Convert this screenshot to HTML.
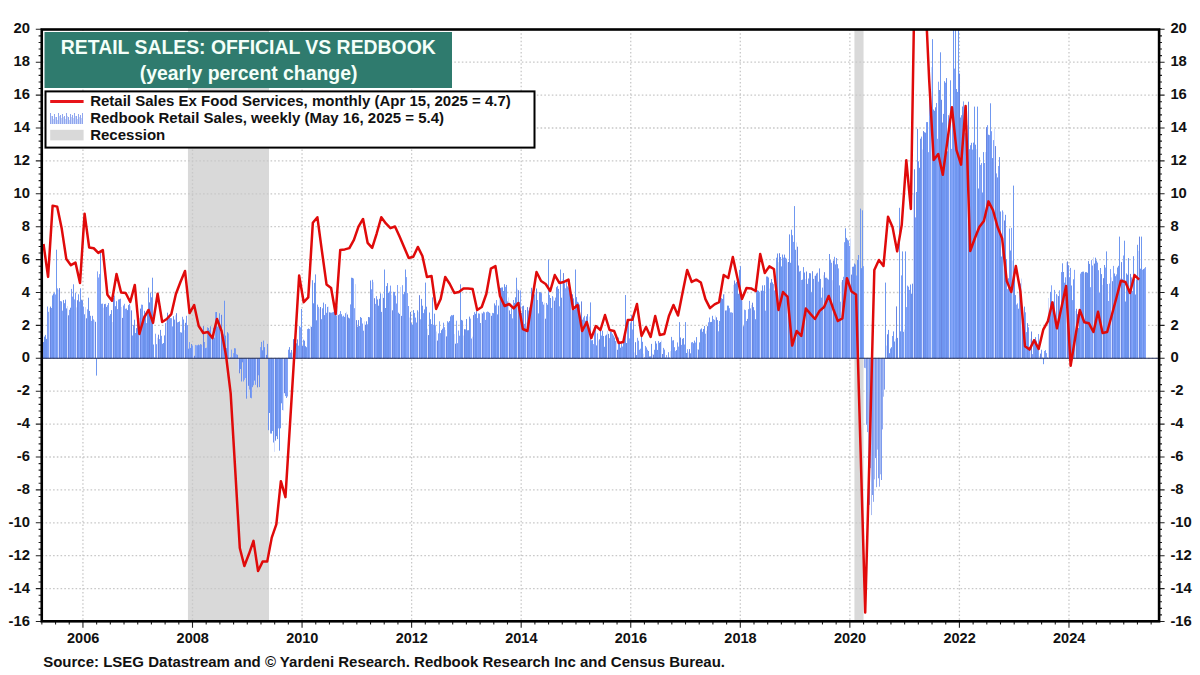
<!DOCTYPE html>
<html><head><meta charset="utf-8"><style>
html,body{margin:0;padding:0;background:#fff;}
body{width:1200px;height:675px;overflow:hidden;position:relative;}
svg{position:absolute;left:0;top:0;}
text{font-family:"Liberation Sans",sans-serif;font-weight:bold;}
</style></head><body>
<svg width="1200" height="675" viewBox="0 0 1200 675">
<defs><clipPath id="pc"><rect x="41.75" y="29.5" width="1117.35" height="591.80"/></clipPath></defs>
<rect x="0" y="0" width="1200" height="675" fill="#fff"/>
<rect x="187.94" y="29.5" width="81.07" height="591.8" fill="#d9d9d9"/>
<rect x="854.42" y="29.5" width="9.13" height="591.8" fill="#d9d9d9"/>
<path d="M41.8 588.60H1159.1M41.8 555.70H1159.1M41.8 522.80H1159.1M41.8 489.90H1159.1M41.8 457.00H1159.1M41.8 424.10H1159.1M41.8 391.20H1159.1M41.8 358.30H1159.1M41.8 325.40H1159.1M41.8 292.50H1159.1M41.8 259.60H1159.1M41.8 226.70H1159.1M41.8 193.80H1159.1M41.8 160.90H1159.1M41.8 128.00H1159.1M41.8 95.10H1159.1M41.8 62.20H1159.1M82.94 29.5V621.3M192.50 29.5V621.3M302.06 29.5V621.3M411.62 29.5V621.3M521.18 29.5V621.3M630.74 29.5V621.3M740.30 29.5V621.3M849.86 29.5V621.3M959.42 29.5V621.3M1068.98 29.5V621.3" stroke="#c8c8c8" stroke-width="1.3" stroke-dasharray="1.6 2.15" fill="none"/>
<path d="M42.5 342.6V358.3M44.5 336.6V358.3M45.5 334.9V358.3M46.5 338.9V358.3M52.5 295.4V358.3M61.5 301.4V358.3M64.5 303.2V358.3M65.5 299.6V358.3M78.5 294.3V358.3M80.5 288.3V358.3M84.5 314.3V358.3M88.5 297.7V358.3M92.5 315.8V358.3M110.5 314.1V358.3M111.5 310.1V358.3M116.5 301.2V358.3M133.5 325.2V358.3M137.5 319.7V358.3M145.5 313.2V358.3M153.5 344.5V358.3M162.5 343.8V358.3M163.5 343.0V358.3M179.5 321.4V358.3M183.5 319.5V358.3M190.5 347.9V358.3M197.5 345.3V358.3M200.5 344.1V358.3M205.5 348.1V358.3M210.5 326.3V358.3M214.5 337.7V358.3M232.5 357.5V358.3M234.5 348.2V358.3M240.5 358.3V369.0M252.5 358.3V387.2M261.5 341.9V358.3M263.5 340.6V358.3M268.5 358.3V430.2M269.5 358.3V413.0M273.5 358.3V442.5M277.5 358.3V439.1M281.5 358.3V403.3M289.5 347.1V358.3M306.5 347.2V358.3M308.5 328.5V358.3M312.5 280.2V358.3M316.5 320.3V358.3M321.5 319.2V358.3M323.5 302.6V358.3M327.5 306.9V358.3M334.5 309.7V358.3M335.5 308.0V358.3M341.5 314.2V358.3M344.5 316.9V358.3M357.5 326.6V358.3M360.5 317.0V358.3M381.5 311.9V358.3M386.5 286.1V358.3M387.5 283.1V358.3M398.5 312.7V358.3M411.5 323.1V358.3M412.5 324.6V358.3M417.5 310.3V358.3M422.5 305.7V358.3M424.5 309.4V358.3M429.5 312.5V358.3M442.5 328.7V358.3M448.5 322.4V358.3M449.5 321.0V358.3M450.5 316.4V358.3M452.5 315.4V358.3M462.5 320.5V358.3M465.5 329.4V358.3M467.5 330.3V358.3M480.5 323.0V358.3M489.5 312.8V358.3M493.5 313.2V358.3M503.5 291.0V358.3M506.5 284.9V358.3M534.5 294.4V358.3M538.5 313.4V358.3M539.5 292.1V358.3M540.5 292.1V358.3M547.5 304.7V358.3M558.5 288.9V358.3M569.5 279.8V358.3M574.5 310.0V358.3M576.5 297.1V358.3M578.5 302.6V358.3M582.5 319.6V358.3M585.5 320.7V358.3M586.5 316.4V358.3M591.5 340.3V358.3M592.5 340.1V358.3M602.5 330.7V358.3M604.5 346.8V358.3M610.5 331.4V358.3M614.5 337.5V358.3M623.5 336.6V358.3M624.5 337.6V358.3M641.5 332.7V358.3M642.5 341.8V358.3M648.5 351.0V358.3M656.5 343.5V358.3M657.5 349.9V358.3M673.5 340.2V358.3M682.5 338.8V358.3M693.5 343.2V358.3M694.5 340.6V358.3M696.5 337.1V358.3M699.5 342.4V358.3M700.5 329.4V358.3M701.5 328.4V358.3M704.5 326.0V358.3M712.5 315.8V358.3M717.5 320.1V358.3M719.5 320.9V358.3M720.5 297.7V358.3M721.5 298.1V358.3M723.5 294.3V358.3M727.5 305.6V358.3M728.5 305.7V358.3M735.5 283.5V358.3M755.5 319.2V358.3M757.5 290.3V358.3M768.5 277.5V358.3M780.5 257.0V358.3M781.5 266.4V358.3M782.5 254.5V358.3M790.5 262.8V358.3M791.5 229.7V358.3M795.5 249.8V358.3M799.5 271.5V358.3M802.5 279.6V358.3M803.5 267.1V358.3M813.5 278.9V358.3M816.5 273.6V358.3M820.5 278.9V358.3M835.5 264.4V358.3M837.5 264.2V358.3M839.5 285.4V358.3M855.5 264.5V358.3M857.5 259.9V358.3M858.5 255.0V358.3M888.5 329.9V358.3M889.5 353.2V358.3M891.5 347.2V358.3M893.5 331.4V358.3M900.5 331.3V358.3M910.5 284.5V358.3M916.5 192.0V358.3M918.5 161.3V358.3M924.5 132.2V358.3M927.5 122.1V358.3M933.5 109.5V358.3M942.5 122.5V358.3M943.5 113.9V358.3M944.5 81.2V358.3M947.5 151.3V358.3M953.5 29.5V358.3M956.5 89.0V358.3M960.5 117.5V358.3M966.5 107.7V358.3M971.5 142.8V358.3M973.5 142.6V358.3M978.5 188.5V358.3M982.5 192.5V358.3M983.5 152.1V358.3M997.5 177.4V358.3M1001.5 256.5V358.3M1005.5 214.8V358.3M1008.5 278.3V358.3M1010.5 250.5V358.3M1015.5 295.1V358.3M1018.5 308.7V358.3M1023.5 320.3V358.3M1036.5 340.5V358.3M1037.5 347.2V358.3M1047.5 357.5V358.3M1050.5 291.9V358.3M1060.5 309.0V358.3M1062.5 263.3V358.3M1063.5 272.0V358.3M1068.5 265.2V358.3M1071.5 285.5V358.3M1073.5 279.3V358.3M1079.5 309.6V358.3M1082.5 271.7V358.3M1083.5 271.6V358.3M1086.5 272.2V358.3M1096.5 260.5V358.3M1100.5 268.0V358.3M1115.5 276.2V358.3M1117.5 267.5V358.3M1118.5 265.8V358.3M1126.5 273.4V358.3M1133.5 256.2V358.3M1134.5 278.9V358.3M1140.5 268.7V358.3" stroke="#6f96f0" stroke-width="1" fill="none"/>
<path d="M43.5 342.0V358.3M47.5 306.5V358.3M51.5 308.0V358.3M71.5 288.9V358.3M72.5 296.6V358.3M75.5 292.8V358.3M83.5 306.6V358.3M90.5 315.8V358.3M101.5 303.8V358.3M102.5 303.6V358.3M105.5 303.8V358.3M108.5 303.0V358.3M117.5 309.1V358.3M118.5 299.5V358.3M120.5 298.7V358.3M123.5 305.5V358.3M126.5 308.5V358.3M129.5 303.8V358.3M132.5 335.5V358.3M135.5 333.0V358.3M138.5 321.2V358.3M142.5 304.8V358.3M150.5 292.7V358.3M156.5 344.2V358.3M161.5 335.8V358.3M165.5 323.1V358.3M169.5 315.3V358.3M170.5 318.1V358.3M172.5 326.4V358.3M177.5 322.4V358.3M178.5 322.0V358.3M186.5 315.8V358.3M187.5 325.1V358.3M189.5 342.1V358.3M192.5 345.6V358.3M199.5 345.2V358.3M201.5 344.6V358.3M204.5 342.0V358.3M207.5 327.3V358.3M213.5 327.9V358.3M217.5 326.8V358.3M235.5 348.4V358.3M243.5 358.3V381.5M249.5 358.3V389.6M251.5 358.3V398.3M253.5 358.3V385.3M255.5 358.3V384.8M258.5 358.3V375.3M270.5 358.3V433.5M272.5 358.3V431.0M285.5 358.3V396.1M286.5 358.3V398.0M288.5 349.7V358.3M290.5 352.6V358.3M294.5 339.9V358.3M299.5 326.1V358.3M303.5 339.7V358.3M317.5 304.6V358.3M322.5 308.3V358.3M325.5 304.1V358.3M326.5 312.8V358.3M331.5 312.7V358.3M332.5 312.3V358.3M333.5 311.8V358.3M336.5 315.5V358.3M339.5 314.2V358.3M340.5 311.1V358.3M343.5 315.7V358.3M345.5 313.2V358.3M350.5 304.4V358.3M359.5 326.0V358.3M361.5 317.9V358.3M362.5 323.5V358.3M363.5 330.7V358.3M367.5 324.3V358.3M371.5 289.3V358.3M372.5 279.8V358.3M376.5 296.1V358.3M389.5 291.5V358.3M390.5 285.6V358.3M393.5 291.7V358.3M395.5 295.6V358.3M396.5 303.5V358.3M403.5 294.2V358.3M408.5 306.0V358.3M414.5 312.9V358.3M415.5 317.6V358.3M416.5 322.5V358.3M423.5 313.1V358.3M431.5 324.1V358.3M438.5 333.4V358.3M440.5 333.1V358.3M443.5 322.7V358.3M444.5 327.2V358.3M447.5 321.2V358.3M451.5 315.1V358.3M457.5 343.2V358.3M471.5 338.5V358.3M478.5 313.4V358.3M479.5 313.7V358.3M483.5 311.7V358.3M485.5 319.9V358.3M486.5 312.2V358.3M488.5 311.9V358.3M501.5 287.5V358.3M507.5 301.4V358.3M510.5 314.0V358.3M511.5 308.2V358.3M512.5 318.4V358.3M522.5 306.2V358.3M524.5 323.9V358.3M525.5 310.0V358.3M528.5 310.5V358.3M529.5 307.5V358.3M541.5 293.1V358.3M542.5 301.8V358.3M543.5 304.6V358.3M551.5 307.9V358.3M552.5 296.1V358.3M557.5 285.9V358.3M564.5 283.3V358.3M588.5 325.0V358.3M594.5 329.6V358.3M595.5 326.5V358.3M601.5 335.6V358.3M612.5 333.8V358.3M613.5 335.5V358.3M615.5 341.1V358.3M618.5 337.5V358.3M621.5 342.0V358.3M622.5 346.5V358.3M628.5 320.9V358.3M631.5 314.9V358.3M638.5 340.7V358.3M639.5 349.8V358.3M645.5 345.9V358.3M646.5 347.4V358.3M650.5 356.3V358.3M654.5 349.8V358.3M658.5 341.0V358.3M663.5 347.9V358.3M664.5 349.6V358.3M665.5 357.5V358.3M668.5 352.2V358.3M669.5 357.5V358.3M674.5 347.2V358.3M677.5 342.4V358.3M681.5 344.9V358.3M684.5 344.5V358.3M691.5 342.4V358.3M702.5 331.8V358.3M708.5 322.3V358.3M709.5 317.5V358.3M730.5 312.4V358.3M732.5 312.8V358.3M748.5 309.2V358.3M749.5 300.9V358.3M750.5 308.4V358.3M754.5 310.3V358.3M756.5 289.2V358.3M766.5 276.5V358.3M774.5 290.4V358.3M776.5 257.7V358.3M785.5 257.7V358.3M786.5 258.7V358.3M792.5 235.2V358.3M807.5 283.9V358.3M808.5 278.5V358.3M811.5 292.3V358.3M821.5 297.6V358.3M822.5 287.6V358.3M826.5 277.7V358.3M827.5 278.7V358.3M828.5 279.6V358.3M830.5 259.8V358.3M831.5 262.8V358.3M834.5 256.8V358.3M836.5 258.0V358.3M847.5 239.6V358.3M848.5 240.5V358.3M849.5 245.8V358.3M852.5 266.8V358.3M890.5 348.5V358.3M903.5 331.8V358.3M907.5 285.6V358.3M908.5 286.7V358.3M915.5 217.4V358.3M921.5 136.6V358.3M926.5 122.1V358.3M936.5 103.0V358.3M945.5 82.7V358.3M948.5 115.2V358.3M957.5 91.9V358.3M961.5 115.2V358.3M965.5 133.1V358.3M969.5 149.2V358.3M970.5 145.2V358.3M979.5 157.3V358.3M981.5 163.1V358.3M984.5 163.0V358.3M987.5 125.2V358.3M991.5 131.2V358.3M1002.5 210.4V358.3M1006.5 259.2V358.3M1009.5 228.5V358.3M1020.5 283.5V358.3M1028.5 327.3V358.3M1029.5 346.9V358.3M1032.5 354.1V358.3M1033.5 339.3V358.3M1034.5 340.9V358.3M1041.5 349.7V358.3M1042.5 357.5V358.3M1045.5 350.1V358.3M1054.5 289.9V358.3M1055.5 318.8V358.3M1056.5 294.1V358.3M1061.5 272.1V358.3M1064.5 282.7V358.3M1065.5 277.3V358.3M1069.5 277.3V358.3M1070.5 267.9V358.3M1081.5 272.1V358.3M1092.5 265.5V358.3M1097.5 262.6V358.3M1098.5 270.2V358.3M1099.5 292.7V358.3M1107.5 284.0V358.3M1122.5 278.9V358.3M1131.5 277.4V358.3M1144.5 268.3V358.3" stroke="#7a9cf5" stroke-width="1" fill="none"/>
<path d="M48.5 311.8V358.3M54.5 292.4V358.3M55.5 294.5V358.3M57.5 288.4V358.3M60.5 301.0V358.3M62.5 310.7V358.3M69.5 309.8V358.3M74.5 299.4V358.3M79.5 301.6V358.3M87.5 309.3V358.3M91.5 320.8V358.3M93.5 319.4V358.3M97.5 271.4V358.3M98.5 277.5V358.3M99.5 274.1V358.3M107.5 305.2V358.3M109.5 315.7V358.3M114.5 295.6V358.3M124.5 303.8V358.3M125.5 308.8V358.3M141.5 304.6V358.3M146.5 323.1V358.3M155.5 333.7V358.3M159.5 339.1V358.3M168.5 318.3V358.3M171.5 318.2V358.3M180.5 332.2V358.3M182.5 316.8V358.3M195.5 344.9V358.3M196.5 345.3V358.3M206.5 347.7V358.3M215.5 312.1V358.3M218.5 321.5V358.3M222.5 333.5V358.3M223.5 334.3V358.3M228.5 333.4V358.3M231.5 349.6V358.3M233.5 353.1V358.3M236.5 354.2V358.3M244.5 358.3V379.8M245.5 358.3V378.0M260.5 347.1V358.3M278.5 358.3V428.4M282.5 358.3V410.1M287.5 358.3V396.5M298.5 345.6V358.3M300.5 327.3V358.3M307.5 329.1V358.3M309.5 329.0V358.3M318.5 306.9V358.3M342.5 316.5V358.3M353.5 278.5V358.3M354.5 308.2V358.3M375.5 303.9V358.3M397.5 285.0V358.3M402.5 285.2V358.3M406.5 277.1V358.3M407.5 293.1V358.3M420.5 319.3V358.3M433.5 324.8V358.3M435.5 325.4V358.3M439.5 321.3V358.3M456.5 320.7V358.3M458.5 330.5V358.3M459.5 335.7V358.3M470.5 318.6V358.3M474.5 312.1V358.3M477.5 318.1V358.3M484.5 312.4V358.3M487.5 311.5V358.3M492.5 312.9V358.3M496.5 300.0V358.3M505.5 286.9V358.3M513.5 300.0V358.3M520.5 290.4V358.3M530.5 311.7V358.3M532.5 300.7V358.3M533.5 296.0V358.3M537.5 300.0V358.3M546.5 303.0V358.3M549.5 294.9V358.3M555.5 297.6V358.3M559.5 306.3V358.3M565.5 288.3V358.3M566.5 281.2V358.3M567.5 286.4V358.3M568.5 287.5V358.3M570.5 290.3V358.3M583.5 317.4V358.3M584.5 315.8V358.3M593.5 344.1V358.3M597.5 333.4V358.3M609.5 338.1V358.3M611.5 331.7V358.3M627.5 320.0V358.3M629.5 338.4V358.3M632.5 329.5V358.3M637.5 337.8V358.3M640.5 348.7V358.3M647.5 349.7V358.3M666.5 355.1V358.3M667.5 357.5V358.3M672.5 340.5V358.3M675.5 351.1V358.3M678.5 346.6V358.3M687.5 349.2V358.3M692.5 342.0V358.3M695.5 342.5V358.3M705.5 333.7V358.3M713.5 319.2V358.3M714.5 319.9V358.3M718.5 331.3V358.3M726.5 310.4V358.3M729.5 308.2V358.3M731.5 312.3V358.3M744.5 309.6V358.3M745.5 310.1V358.3M746.5 321.0V358.3M759.5 292.0V358.3M763.5 290.8V358.3M765.5 310.7V358.3M773.5 284.1V358.3M783.5 257.6V358.3M793.5 241.9V358.3M800.5 270.9V358.3M801.5 280.0V358.3M817.5 272.7V358.3M818.5 281.7V358.3M838.5 268.4V358.3M840.5 301.7V358.3M843.5 276.8V358.3M844.5 242.2V358.3M856.5 275.5V358.3M863.5 266.2V358.3M892.5 336.0V358.3M901.5 275.4V358.3M906.5 307.1V358.3M909.5 289.9V358.3M928.5 152.2V358.3M929.5 85.4V358.3M930.5 90.5V358.3M937.5 138.8V358.3M938.5 81.7V358.3M951.5 148.9V358.3M952.5 111.0V358.3M954.5 68.6V358.3M963.5 101.4V358.3M964.5 106.7V358.3M972.5 149.6V358.3M980.5 164.9V358.3M989.5 135.1V358.3M993.5 140.1V358.3M996.5 173.4V358.3M998.5 166.0V358.3M1007.5 289.2V358.3M1011.5 227.9V358.3M1016.5 304.6V358.3M1017.5 303.4V358.3M1019.5 290.9V358.3M1025.5 312.3V358.3M1026.5 332.1V358.3M1038.5 334.0V358.3M1044.5 351.0V358.3M1046.5 353.1V358.3M1051.5 285.3V358.3M1053.5 301.5V358.3M1059.5 290.3V358.3M1072.5 300.1V358.3M1074.5 269.8V358.3M1080.5 273.6V358.3M1090.5 287.2V358.3M1091.5 260.1V358.3M1105.5 267.6V358.3M1108.5 301.0V358.3M1109.5 283.6V358.3M1110.5 269.1V358.3M1113.5 265.9V358.3M1116.5 274.4V358.3M1123.5 255.5V358.3M1132.5 290.9V358.3M1136.5 279.4V358.3M1142.5 269.8V358.3M1145.5 267.1V358.3" stroke="#83a4f8" stroke-width="1" fill="none"/>
<path d="M49.5 308.1V358.3M58.5 289.8V358.3M67.5 306.1V358.3M76.5 307.4V358.3M85.5 307.1V358.3M94.5 320.2V358.3M103.5 307.6V358.3M112.5 322.0V358.3M121.5 307.0V358.3M130.5 306.2V358.3M139.5 317.9V358.3M157.5 337.7V358.3M166.5 320.1V358.3M175.5 315.1V358.3M184.5 330.2V358.3M193.5 344.8V358.3M202.5 346.9V358.3M211.5 329.2V358.3M220.5 314.0V358.3M229.5 340.2V358.3M238.5 358.3V369.8M247.5 358.3V395.9M256.5 358.3V384.8M265.5 340.5V358.3M274.5 358.3V451.8M283.5 358.3V410.5M292.5 352.6V358.3M310.5 325.8V358.3M319.5 308.6V358.3M328.5 306.6V358.3M337.5 305.9V358.3M346.5 311.8V358.3M355.5 284.1V358.3M364.5 321.4V358.3M373.5 282.2V358.3M382.5 293.8V358.3M391.5 294.8V358.3M400.5 287.0V358.3M409.5 317.5V358.3M418.5 311.8V358.3M427.5 328.8V358.3M436.5 331.5V358.3M445.5 330.0V358.3M454.5 334.1V358.3M463.5 335.5V358.3M472.5 336.7V358.3M481.5 312.7V358.3M490.5 313.3V358.3M499.5 287.1V358.3M508.5 297.4V358.3M517.5 288.7V358.3M526.5 322.5V358.3M535.5 292.0V358.3M544.5 302.7V358.3M553.5 297.2V358.3M562.5 279.3V358.3M571.5 293.7V358.3M580.5 315.2V358.3M589.5 316.6V358.3M598.5 340.5V358.3M607.5 330.8V358.3M616.5 339.2V358.3M634.5 352.4V358.3M643.5 353.7V358.3M652.5 353.7V358.3M661.5 340.5V358.3M670.5 351.1V358.3M688.5 351.7V358.3M697.5 349.1V358.3M706.5 330.6V358.3M715.5 315.5V358.3M724.5 294.1V358.3M733.5 284.9V358.3M742.5 301.1V358.3M751.5 305.0V358.3M760.5 290.6V358.3M769.5 288.6V358.3M778.5 262.2V358.3M787.5 262.4V358.3M796.5 242.4V358.3M805.5 279.0V358.3M814.5 275.9V358.3M823.5 275.3V358.3M832.5 280.2V358.3M841.5 282.2V358.3M850.5 238.4V358.3M859.5 257.8V358.3M886.5 345.6V358.3M895.5 338.8V358.3M904.5 329.5V358.3M913.5 192.9V358.3M922.5 149.5V358.3M931.5 67.1V358.3M949.5 119.8V358.3M967.5 125.3V358.3M976.5 149.2V358.3M985.5 152.1V358.3M994.5 128.0V358.3M1003.5 211.9V358.3M1012.5 260.7V358.3M1021.5 278.6V358.3M1030.5 338.7V358.3M1039.5 356.2V358.3M1048.5 298.0V358.3M1057.5 295.0V358.3M1066.5 262.3V358.3M1075.5 310.9V358.3M1084.5 273.1V358.3M1093.5 257.1V358.3M1102.5 284.9V358.3M1111.5 277.4V358.3M1120.5 278.0V358.3M1129.5 285.4V358.3M1138.5 250.9V358.3" stroke="#d2defd" stroke-width="1" fill="none"/>
<path d="M50.5 306.6V358.3M59.5 288.1V358.3M68.5 315.3V358.3M77.5 300.2V358.3M86.5 318.3V358.3M95.5 321.8V358.3M104.5 304.1V358.3M113.5 297.9V358.3M122.5 317.9V358.3M131.5 310.4V358.3M140.5 308.6V358.3M149.5 302.4V358.3M158.5 334.7V358.3M167.5 312.7V358.3M176.5 313.2V358.3M185.5 322.8V358.3M194.5 355.8V358.3M203.5 326.1V358.3M212.5 337.6V358.3M221.5 314.8V358.3M230.5 357.5V358.3M239.5 358.3V373.3M248.5 358.3V385.8M257.5 358.3V387.4M266.5 354.9V358.3M275.5 358.3V440.7M284.5 358.3V393.2M293.5 339.1V358.3M302.5 345.9V358.3M311.5 326.8V358.3M320.5 307.0V358.3M329.5 312.3V358.3M338.5 315.1V358.3M347.5 314.5V358.3M356.5 320.1V358.3M365.5 324.8V358.3M374.5 298.2V358.3M383.5 297.9V358.3M392.5 310.3V358.3M401.5 315.9V358.3M410.5 311.9V358.3M419.5 295.2V358.3M428.5 335.1V358.3M437.5 340.6V358.3M446.5 336.4V358.3M455.5 343.7V358.3M464.5 329.2V358.3M473.5 315.1V358.3M482.5 313.4V358.3M491.5 315.8V358.3M500.5 287.9V358.3M509.5 310.4V358.3M518.5 290.2V358.3M527.5 307.1V358.3M536.5 288.5V358.3M545.5 318.7V358.3M554.5 300.7V358.3M563.5 273.1V358.3M572.5 294.3V358.3M581.5 301.4V358.3M599.5 339.3V358.3M608.5 333.9V358.3M617.5 349.8V358.3M626.5 343.0V358.3M635.5 342.2V358.3M644.5 357.4V358.3M653.5 354.7V358.3M662.5 354.0V358.3M680.5 337.5V358.3M689.5 349.1V358.3M698.5 349.6V358.3M707.5 326.2V358.3M716.5 317.3V358.3M725.5 310.5V358.3M734.5 280.5V358.3M743.5 326.2V358.3M752.5 302.7V358.3M761.5 290.7V358.3M770.5 282.7V358.3M779.5 253.2V358.3M788.5 262.0V358.3M797.5 246.7V358.3M806.5 271.5V358.3M815.5 275.7V358.3M824.5 272.2V358.3M833.5 260.5V358.3M842.5 280.0V358.3M851.5 274.6V358.3M887.5 334.3V358.3M896.5 306.4V358.3M914.5 169.3V358.3M923.5 131.1V358.3M941.5 99.8V358.3M959.5 73.6V358.3M968.5 101.7V358.3M986.5 127.1V358.3M995.5 146.1V358.3M1004.5 220.5V358.3M1022.5 318.3V358.3M1031.5 331.5V358.3M1040.5 353.6V358.3M1049.5 315.5V358.3M1058.5 296.1V358.3M1067.5 261.4V358.3M1076.5 308.8V358.3M1085.5 272.2V358.3M1094.5 263.6V358.3M1103.5 278.2V358.3M1112.5 281.2V358.3M1121.5 262.1V358.3M1130.5 273.9V358.3M1139.5 236.6V358.3" stroke="#6986e2" stroke-width="1" fill="none"/>
<path d="M53.5 293.5V358.3M63.5 300.1V358.3M66.5 308.4V358.3M70.5 307.7V358.3M81.5 299.7V358.3M82.5 300.4V358.3M89.5 310.9V358.3M106.5 306.9V358.3M115.5 306.2V358.3M119.5 299.3V358.3M127.5 310.1V358.3M128.5 305.1V358.3M134.5 319.7V358.3M136.5 328.1V358.3M143.5 315.5V358.3M144.5 310.8V358.3M147.5 312.5V358.3M151.5 297.3V358.3M160.5 329.9V358.3M164.5 335.4V358.3M173.5 316.2V358.3M174.5 319.6V358.3M181.5 332.6V358.3M188.5 348.7V358.3M191.5 344.0V358.3M198.5 344.6V358.3M208.5 328.1V358.3M209.5 330.4V358.3M216.5 312.0V358.3M219.5 313.3V358.3M225.5 335.6V358.3M226.5 348.0V358.3M227.5 332.2V358.3M237.5 354.8V358.3M241.5 358.3V381.5M242.5 358.3V362.3M246.5 358.3V398.7M250.5 358.3V397.8M254.5 358.3V380.6M259.5 358.3V387.1M262.5 350.3V358.3M264.5 347.2V358.3M267.5 343.9V358.3M271.5 358.3V433.6M276.5 358.3V436.2M279.5 358.3V450.7M280.5 358.3V428.3M291.5 350.0V358.3M295.5 341.9V358.3M296.5 343.3V358.3M297.5 339.4V358.3M304.5 340.7V358.3M305.5 346.2V358.3M313.5 303.3V358.3M314.5 282.8V358.3M324.5 315.1V358.3M330.5 312.6V358.3M348.5 317.6V358.3M349.5 318.4V358.3M352.5 277.9V358.3M358.5 320.1V358.3M366.5 321.3V358.3M368.5 317.0V358.3M369.5 317.3V358.3M370.5 280.5V358.3M377.5 299.4V358.3M378.5 305.7V358.3M379.5 298.8V358.3M380.5 293.3V358.3M385.5 308.0V358.3M388.5 292.9V358.3M394.5 292.0V358.3M399.5 313.9V358.3M404.5 291.8V358.3M413.5 310.1V358.3M421.5 298.9V358.3M426.5 306.7V358.3M430.5 319.2V358.3M434.5 313.7V358.3M441.5 330.2V358.3M453.5 314.9V358.3M461.5 319.9V358.3M466.5 319.0V358.3M468.5 330.2V358.3M469.5 316.6V358.3M475.5 313.8V358.3M476.5 311.1V358.3M494.5 303.4V358.3M495.5 305.4V358.3M497.5 314.4V358.3M498.5 305.6V358.3M502.5 287.4V358.3M504.5 284.2V358.3M514.5 302.9V358.3M515.5 297.3V358.3M519.5 301.9V358.3M521.5 313.0V358.3M523.5 305.7V358.3M531.5 287.8V358.3M550.5 298.0V358.3M556.5 287.2V358.3M561.5 297.7V358.3M573.5 298.4V358.3M577.5 301.8V358.3M579.5 304.6V358.3M587.5 314.1V358.3M596.5 345.4V358.3M600.5 330.0V358.3M603.5 336.0V358.3M605.5 335.6V358.3M606.5 334.6V358.3M619.5 341.5V358.3M620.5 347.7V358.3M630.5 323.2V358.3M633.5 313.2V358.3M636.5 355.1V358.3M649.5 356.5V358.3M651.5 343.9V358.3M655.5 341.2V358.3M659.5 342.8V358.3M660.5 342.0V358.3M676.5 350.1V358.3M683.5 338.0V358.3M686.5 353.0V358.3M690.5 353.3V358.3M703.5 329.0V358.3M710.5 322.1V358.3M711.5 321.9V358.3M722.5 298.9V358.3M736.5 281.9V358.3M737.5 279.7V358.3M738.5 293.8V358.3M739.5 269.9V358.3M741.5 292.4V358.3M747.5 318.9V358.3M753.5 307.1V358.3M758.5 290.8V358.3M762.5 285.4V358.3M764.5 285.2V358.3M767.5 276.6V358.3M771.5 279.0V358.3M772.5 282.4V358.3M775.5 287.9V358.3M777.5 253.5V358.3M784.5 254.6V358.3M789.5 234.4V358.3M798.5 265.5V358.3M804.5 272.5V358.3M809.5 273.1V358.3M810.5 273.3V358.3M812.5 271.2V358.3M819.5 268.4V358.3M825.5 277.8V358.3M829.5 254.0V358.3M846.5 237.9V358.3M853.5 266.6V358.3M854.5 263.5V358.3M861.5 268.2V358.3M894.5 341.5V358.3M897.5 337.9V358.3M911.5 293.7V358.3M912.5 283.7V358.3M917.5 128.9V358.3M919.5 167.8V358.3M920.5 138.7V358.3M925.5 132.7V358.3M934.5 110.8V358.3M935.5 107.3V358.3M939.5 90.0V358.3M946.5 78.1V358.3M962.5 106.5V358.3M975.5 144.7V358.3M988.5 134.7V358.3M992.5 158.1V358.3M999.5 157.1V358.3M1000.5 211.5V358.3M1014.5 273.7V358.3M1024.5 306.6V358.3M1027.5 323.1V358.3M1035.5 337.2V358.3M1052.5 304.6V358.3M1077.5 314.2V358.3M1078.5 328.0V358.3M1087.5 272.8V358.3M1088.5 261.1V358.3M1089.5 263.9V358.3M1095.5 257.7V358.3M1101.5 274.1V358.3M1104.5 265.0V358.3M1114.5 273.5V358.3M1125.5 301.5V358.3M1127.5 274.7V358.3M1128.5 258.1V358.3M1135.5 294.5V358.3M1143.5 269.1V358.3" stroke="#6c92ec" stroke-width="1" fill="none"/>
<path d="M56.5 249.7V358.3M73.5 284.3V358.3M96.5 358.3V375.6M100.5 251.4V358.3M148.5 287.6V358.3M152.5 277.7V358.3M154.5 357.5V358.3M224.5 300.7V358.3M301.5 309.0V358.3M315.5 274.4V358.3M351.5 277.7V358.3M384.5 269.5V358.3M405.5 269.5V358.3M425.5 282.6V358.3M432.5 297.4V358.3M460.5 284.3V358.3M516.5 277.7V358.3M548.5 259.6V358.3M560.5 269.5V358.3M575.5 269.5V358.3M590.5 302.4V358.3M625.5 295.0V358.3M671.5 336.9V358.3M679.5 322.1V358.3M685.5 322.1V358.3M740.5 266.2V358.3M794.5 206.1V358.3M845.5 228.3V358.3M860.5 208.6V358.3M862.5 210.3V358.3M885.5 282.6V358.3M899.5 207.8V358.3M902.5 251.4V358.3M905.5 251.4V358.3M932.5 39.2V358.3M940.5 52.3V358.3M950.5 80.3V358.3M955.5 29.5V358.3M958.5 29.5V358.3M974.5 106.6V358.3M977.5 106.6V358.3M990.5 103.3V358.3M1013.5 185.6V358.3M1043.5 358.3V364.2M1106.5 251.4V358.3M1119.5 236.6V358.3M1124.5 240.7V358.3M1137.5 244.8V358.3M1141.5 236.6V358.3" stroke="#7098f0" stroke-width="1" fill="none"/>
<path d="M864.5 358.3V367.8M867.5 358.3V432.1M870.5 358.3V468.1M873.5 358.3V501.8M876.5 358.3V487.2M879.5 358.3V486.7M882.5 358.3V429.4" stroke="#8fa8f0" stroke-width="1" fill="none"/>
<path d="M865.5 358.3V368.2M868.5 358.3V469.9M871.5 358.3V515.1M874.5 358.3V479.4M877.5 358.3V449.6M880.5 358.3V474.3M883.5 358.3V396.7" stroke="#a9bcf2" stroke-width="1" fill="none"/>
<path d="M866.5 358.3V424.8M869.5 358.3V504.9M872.5 358.3V495.0M875.5 358.3V458.1M878.5 358.3V478.3M881.5 358.3V480.0M884.5 358.3V389.6" stroke="#7c9bee" stroke-width="1" fill="none"/>
<path d="M41.75 358.3H1159.1" stroke="#1f2a55" stroke-width="1.1"/>
<polyline points="43.50,243.97 48.07,276.87 52.63,205.64 57.20,206.63 61.76,228.84 66.33,259.11 70.89,265.19 75.46,262.56 80.02,282.96 84.59,213.70 89.15,247.43 93.72,248.25 98.28,252.86 102.85,250.06 107.41,294.64 111.98,300.73 116.54,274.08 121.11,292.50 125.67,292.99 130.24,302.04 134.80,284.93 139.37,333.95 143.93,318.00 148.50,309.94 153.06,322.93 157.63,293.65 162.19,321.95 166.76,318.98 171.32,314.05 175.89,293.98 180.45,281.97 185.02,270.95 189.58,313.06 194.15,305.00 198.71,326.06 203.28,332.97 207.84,331.98 212.41,338.07 216.97,318.98 221.54,330.99 226.10,356.00 230.67,393.34 235.23,470.16 239.80,547.97 244.36,566.06 248.93,554.06 253.49,540.89 258.06,571.00 262.62,561.62 267.19,561.62 271.75,537.61 276.32,524.44 280.88,481.18 285.45,497.14 290.01,424.10 294.58,350.07 299.14,275.56 303.71,302.21 308.27,297.44 312.84,222.75 317.40,217.32 321.97,251.38 326.53,284.44 331.10,288.06 335.66,314.05 340.23,250.06 344.79,249.40 349.36,248.09 353.92,239.86 358.49,226.70 363.05,218.97 367.62,242.82 372.18,247.92 376.75,233.28 381.31,217.16 385.88,223.41 390.44,228.18 395.01,226.54 399.57,236.57 404.14,247.26 408.70,257.96 413.27,256.80 417.83,246.93 422.40,255.98 426.96,277.04 431.53,276.05 436.09,308.95 440.66,299.08 445.22,277.04 449.79,283.95 454.35,292.99 458.92,292.01 463.48,288.55 468.05,288.55 472.61,289.05 477.18,309.94 481.74,306.98 486.31,293.98 490.87,268.65 495.44,266.18 500.00,295.95 504.57,305.99 509.13,304.01 513.70,308.46 518.26,303.03 522.83,329.02 527.39,330.99 531.96,300.73 536.52,271.94 541.09,280.99 545.65,283.95 550.22,291.02 554.78,275.06 559.35,282.96 563.91,281.97 568.48,279.67 573.04,308.95 577.61,305.00 582.17,330.99 586.74,321.95 591.30,338.07 595.87,326.06 600.43,330.01 605.00,315.04 609.56,330.01 614.13,330.99 618.69,343.00 623.26,342.01 627.82,319.97 632.39,319.64 636.95,304.01 641.52,335.93 646.08,327.05 650.65,336.92 655.21,316.02 659.78,334.94 664.34,333.95 668.91,316.02 673.47,305.00 678.04,315.53 682.60,292.50 687.17,269.96 691.73,281.97 696.30,279.67 700.86,282.47 705.43,299.08 709.99,308.13 714.56,304.34 719.12,302.04 723.69,275.06 728.25,278.02 732.82,256.97 737.38,277.69 741.95,299.08 746.51,288.06 751.08,288.39 755.64,291.02 760.21,254.01 764.77,272.92 769.34,266.34 773.90,268.98 778.47,309.94 783.03,292.01 787.60,296.94 792.16,345.63 796.73,330.99 801.29,335.93 805.86,308.46 810.42,313.88 814.99,318.98 819.55,310.92 824.12,306.98 828.68,295.95 833.25,308.95 837.81,320.96 842.38,318.33 846.94,278.19 851.51,291.51 856.07,294.47 860.64,452.06 865.20,612.45 869.77,445.49 874.33,269.96 878.90,259.93 883.46,266.02 888.03,216.67 892.59,227.36 897.16,251.38 901.72,225.06 906.29,160.24 910.85,208.93 915.42,-69.40 919.98,-464.20 924.55,-20.05 929.11,78.65 933.68,159.91 938.24,153.99 942.81,174.72 947.37,141.16 951.94,107.27 956.50,150.04 961.07,164.68 965.63,105.96 970.20,251.05 974.76,238.54 979.33,227.03 983.89,220.94 988.46,201.37 993.02,210.25 997.59,227.03 1002.15,238.54 1006.72,280.99 1011.28,292.01 1015.85,266.02 1020.41,291.35 1024.98,346.13 1029.54,349.58 1034.11,340.20 1038.67,348.92 1043.24,329.68 1047.80,321.45 1052.37,302.37 1056.93,328.36 1061.50,307.31 1066.06,286.08 1070.63,365.70 1075.19,337.74 1079.76,309.94 1084.32,322.27 1088.89,323.26 1093.45,331.98 1098.02,311.75 1102.58,332.97 1107.15,331.98 1111.71,315.53 1116.28,298.26 1120.84,280.82 1125.41,281.97 1129.97,292.99 1134.54,275.06 1139.10,279.67" stroke="#e00a0a" stroke-width="2.5" fill="none" stroke-linejoin="round" clip-path="url(#pc)"/>
<path d="M35.8 621.50H41.75M1159.1 621.50H1164.6M38.6 614.92H41.75M1159.1 614.92H1162M38.6 608.34H41.75M1159.1 608.34H1162M38.6 601.76H41.75M1159.1 601.76H1162M38.6 595.18H41.75M1159.1 595.18H1162M35.8 588.60H41.75M1159.1 588.60H1164.6M38.6 582.02H41.75M1159.1 582.02H1162M38.6 575.44H41.75M1159.1 575.44H1162M38.6 568.86H41.75M1159.1 568.86H1162M38.6 562.28H41.75M1159.1 562.28H1162M35.8 555.70H41.75M1159.1 555.70H1164.6M38.6 549.12H41.75M1159.1 549.12H1162M38.6 542.54H41.75M1159.1 542.54H1162M38.6 535.96H41.75M1159.1 535.96H1162M38.6 529.38H41.75M1159.1 529.38H1162M35.8 522.80H41.75M1159.1 522.80H1164.6M38.6 516.22H41.75M1159.1 516.22H1162M38.6 509.64H41.75M1159.1 509.64H1162M38.6 503.06H41.75M1159.1 503.06H1162M38.6 496.48H41.75M1159.1 496.48H1162M35.8 489.90H41.75M1159.1 489.90H1164.6M38.6 483.32H41.75M1159.1 483.32H1162M38.6 476.74H41.75M1159.1 476.74H1162M38.6 470.16H41.75M1159.1 470.16H1162M38.6 463.58H41.75M1159.1 463.58H1162M35.8 457.00H41.75M1159.1 457.00H1164.6M38.6 450.42H41.75M1159.1 450.42H1162M38.6 443.84H41.75M1159.1 443.84H1162M38.6 437.26H41.75M1159.1 437.26H1162M38.6 430.68H41.75M1159.1 430.68H1162M35.8 424.10H41.75M1159.1 424.10H1164.6M38.6 417.52H41.75M1159.1 417.52H1162M38.6 410.94H41.75M1159.1 410.94H1162M38.6 404.36H41.75M1159.1 404.36H1162M38.6 397.78H41.75M1159.1 397.78H1162M35.8 391.20H41.75M1159.1 391.20H1164.6M38.6 384.62H41.75M1159.1 384.62H1162M38.6 378.04H41.75M1159.1 378.04H1162M38.6 371.46H41.75M1159.1 371.46H1162M38.6 364.88H41.75M1159.1 364.88H1162M35.8 358.30H41.75M1159.1 358.30H1164.6M38.6 351.72H41.75M1159.1 351.72H1162M38.6 345.14H41.75M1159.1 345.14H1162M38.6 338.56H41.75M1159.1 338.56H1162M38.6 331.98H41.75M1159.1 331.98H1162M35.8 325.40H41.75M1159.1 325.40H1164.6M38.6 318.82H41.75M1159.1 318.82H1162M38.6 312.24H41.75M1159.1 312.24H1162M38.6 305.66H41.75M1159.1 305.66H1162M38.6 299.08H41.75M1159.1 299.08H1162M35.8 292.50H41.75M1159.1 292.50H1164.6M38.6 285.92H41.75M1159.1 285.92H1162M38.6 279.34H41.75M1159.1 279.34H1162M38.6 272.76H41.75M1159.1 272.76H1162M38.6 266.18H41.75M1159.1 266.18H1162M35.8 259.60H41.75M1159.1 259.60H1164.6M38.6 253.02H41.75M1159.1 253.02H1162M38.6 246.44H41.75M1159.1 246.44H1162M38.6 239.86H41.75M1159.1 239.86H1162M38.6 233.28H41.75M1159.1 233.28H1162M35.8 226.70H41.75M1159.1 226.70H1164.6M38.6 220.12H41.75M1159.1 220.12H1162M38.6 213.54H41.75M1159.1 213.54H1162M38.6 206.96H41.75M1159.1 206.96H1162M38.6 200.38H41.75M1159.1 200.38H1162M35.8 193.80H41.75M1159.1 193.80H1164.6M38.6 187.22H41.75M1159.1 187.22H1162M38.6 180.64H41.75M1159.1 180.64H1162M38.6 174.06H41.75M1159.1 174.06H1162M38.6 167.48H41.75M1159.1 167.48H1162M35.8 160.90H41.75M1159.1 160.90H1164.6M38.6 154.32H41.75M1159.1 154.32H1162M38.6 147.74H41.75M1159.1 147.74H1162M38.6 141.16H41.75M1159.1 141.16H1162M38.6 134.58H41.75M1159.1 134.58H1162M35.8 128.00H41.75M1159.1 128.00H1164.6M38.6 121.42H41.75M1159.1 121.42H1162M38.6 114.84H41.75M1159.1 114.84H1162M38.6 108.26H41.75M1159.1 108.26H1162M38.6 101.68H41.75M1159.1 101.68H1162M35.8 95.10H41.75M1159.1 95.10H1164.6M38.6 88.52H41.75M1159.1 88.52H1162M38.6 81.94H41.75M1159.1 81.94H1162M38.6 75.36H41.75M1159.1 75.36H1162M38.6 68.78H41.75M1159.1 68.78H1162M35.8 62.20H41.75M1159.1 62.20H1164.6M38.6 55.62H41.75M1159.1 55.62H1162M38.6 49.04H41.75M1159.1 49.04H1162M38.6 42.46H41.75M1159.1 42.46H1162M38.6 35.88H41.75M1159.1 35.88H1162M35.8 29.30H41.75M1159.1 29.30H1164.6M41.85 621.3V624.4M55.55 621.3V624.4M69.25 621.3V624.4M82.94 621.3V627.7M96.63 621.3V624.4M110.33 621.3V624.4M124.03 621.3V624.4M137.72 621.3V624.4M151.41 621.3V624.4M165.11 621.3V624.4M178.81 621.3V624.4M192.50 621.3V627.7M206.19 621.3V624.4M219.89 621.3V624.4M233.59 621.3V624.4M247.28 621.3V624.4M260.98 621.3V624.4M274.67 621.3V624.4M288.37 621.3V624.4M302.06 621.3V627.7M315.75 621.3V624.4M329.45 621.3V624.4M343.14 621.3V624.4M356.84 621.3V624.4M370.53 621.3V624.4M384.23 621.3V624.4M397.93 621.3V624.4M411.62 621.3V627.7M425.31 621.3V624.4M439.01 621.3V624.4M452.70 621.3V624.4M466.40 621.3V624.4M480.10 621.3V624.4M493.79 621.3V624.4M507.49 621.3V624.4M521.18 621.3V627.7M534.88 621.3V624.4M548.57 621.3V624.4M562.26 621.3V624.4M575.96 621.3V624.4M589.65 621.3V624.4M603.35 621.3V624.4M617.05 621.3V624.4M630.74 621.3V627.7M644.43 621.3V624.4M658.13 621.3V624.4M671.83 621.3V624.4M685.52 621.3V624.4M699.22 621.3V624.4M712.91 621.3V624.4M726.61 621.3V624.4M740.30 621.3V627.7M754.00 621.3V624.4M767.69 621.3V624.4M781.38 621.3V624.4M795.08 621.3V624.4M808.77 621.3V624.4M822.47 621.3V624.4M836.16 621.3V624.4M849.86 621.3V627.7M863.56 621.3V624.4M877.25 621.3V624.4M890.95 621.3V624.4M904.64 621.3V624.4M918.34 621.3V624.4M932.03 621.3V624.4M945.73 621.3V624.4M959.42 621.3V627.7M973.12 621.3V624.4M986.81 621.3V624.4M1000.50 621.3V624.4M1014.20 621.3V624.4M1027.89 621.3V624.4M1041.59 621.3V624.4M1055.28 621.3V624.4M1068.98 621.3V627.7M1082.68 621.3V624.4M1096.37 621.3V624.4M1110.07 621.3V624.4M1123.76 621.3V624.4M1137.45 621.3V624.4M1151.15 621.3V624.4" stroke="#222" stroke-width="1.1" fill="none"/>
<rect x="41.75" y="29.5" width="1117.35" height="591.80" fill="none" stroke="#000" stroke-width="2.6"/>
<g font-size="14.5" fill="#111">
<text x="29.9" y="625.60" text-anchor="end" font-size="14.8">-16</text>
<text x="1170.4" y="625.60" font-size="14.8">-16</text>
<text x="29.9" y="592.70" text-anchor="end" font-size="14.8">-14</text>
<text x="1170.4" y="592.70" font-size="14.8">-14</text>
<text x="29.9" y="559.80" text-anchor="end" font-size="14.8">-12</text>
<text x="1170.4" y="559.80" font-size="14.8">-12</text>
<text x="29.9" y="526.90" text-anchor="end" font-size="14.8">-10</text>
<text x="1170.4" y="526.90" font-size="14.8">-10</text>
<text x="29.9" y="494.00" text-anchor="end" font-size="14.8">-8</text>
<text x="1170.4" y="494.00" font-size="14.8">-8</text>
<text x="29.9" y="461.10" text-anchor="end" font-size="14.8">-6</text>
<text x="1170.4" y="461.10" font-size="14.8">-6</text>
<text x="29.9" y="428.20" text-anchor="end" font-size="14.8">-4</text>
<text x="1170.4" y="428.20" font-size="14.8">-4</text>
<text x="29.9" y="395.30" text-anchor="end" font-size="14.8">-2</text>
<text x="1170.4" y="395.30" font-size="14.8">-2</text>
<text x="29.9" y="362.40" text-anchor="end" font-size="14.8">0</text>
<text x="1170.4" y="362.40" font-size="14.8">0</text>
<text x="29.9" y="329.50" text-anchor="end" font-size="14.8">2</text>
<text x="1170.4" y="329.50" font-size="14.8">2</text>
<text x="29.9" y="296.60" text-anchor="end" font-size="14.8">4</text>
<text x="1170.4" y="296.60" font-size="14.8">4</text>
<text x="29.9" y="263.70" text-anchor="end" font-size="14.8">6</text>
<text x="1170.4" y="263.70" font-size="14.8">6</text>
<text x="29.9" y="230.80" text-anchor="end" font-size="14.8">8</text>
<text x="1170.4" y="230.80" font-size="14.8">8</text>
<text x="29.9" y="197.90" text-anchor="end" font-size="14.8">10</text>
<text x="1170.4" y="197.90" font-size="14.8">10</text>
<text x="29.9" y="165.00" text-anchor="end" font-size="14.8">12</text>
<text x="1170.4" y="165.00" font-size="14.8">12</text>
<text x="29.9" y="132.10" text-anchor="end" font-size="14.8">14</text>
<text x="1170.4" y="132.10" font-size="14.8">14</text>
<text x="29.9" y="99.20" text-anchor="end" font-size="14.8">16</text>
<text x="1170.4" y="99.20" font-size="14.8">16</text>
<text x="29.9" y="66.30" text-anchor="end" font-size="14.8">18</text>
<text x="1170.4" y="66.30" font-size="14.8">18</text>
<text x="29.9" y="33.40" text-anchor="end" font-size="14.8">20</text>
<text x="1170.4" y="33.40" font-size="14.8">20</text>
<text x="83.14" y="643.2" text-anchor="middle">2006</text>
<text x="192.70" y="643.2" text-anchor="middle">2008</text>
<text x="302.26" y="643.2" text-anchor="middle">2010</text>
<text x="411.82" y="643.2" text-anchor="middle">2012</text>
<text x="521.38" y="643.2" text-anchor="middle">2014</text>
<text x="630.94" y="643.2" text-anchor="middle">2016</text>
<text x="740.50" y="643.2" text-anchor="middle">2018</text>
<text x="850.06" y="643.2" text-anchor="middle">2020</text>
<text x="959.62" y="643.2" text-anchor="middle">2022</text>
<text x="1069.18" y="643.2" text-anchor="middle">2024</text>
</g>
<rect x="44.5" y="32" width="407.5" height="56" fill="#2f7b6e"/>
<text x="248.3" y="53.8" text-anchor="middle" font-size="19.4" fill="#f4fff9">RETAIL SALES: OFFICIAL VS REDBOOK</text>
<text x="248.6" y="79.8" text-anchor="middle" font-size="19.4" fill="#f4fff9">(yearly percent change)</text>
<rect x="45.5" y="91.4" width="489" height="56.2" fill="#fff" stroke="#000" stroke-width="2"/>
<path d="M50.2 101.5H83.6" stroke="#e8141a" stroke-width="3"/>
<path d="M51.5 116V124M53.5 119V124M55.5 117V124M57.5 120V124M59.5 116V124M61.5 118V124M63.5 117V124M65.5 119V124M67.5 116V124M69.5 120V124M71.5 117V124M73.5 118V124M75.5 116V124M77.5 119V124M79.5 117V124M81.5 118V124" stroke="#c9d6fa" stroke-width="1"/>
<path d="M50.5 113V124M52.5 116V124M54.5 114V124M56.5 117V124M58.5 113V124M60.5 115V124M62.5 114V124M64.5 116V124M66.5 113V124M68.5 117V124M70.5 114V124M72.5 115V124M74.5 113V124M76.5 116V124M78.5 114V124M80.5 115V124M82.5 113V124" stroke="#90a6ee" stroke-width="1"/>
<rect x="50.2" y="129.8" width="33.4" height="10.6" fill="#d9d9d9"/>
<g font-size="15.0" fill="#111">
<text x="90.2" y="106.0">Retail Sales Ex Food Services, monthly (Apr 15, 2025 = 4.7)</text>
<text x="90.2" y="123.1">Redbook Retail Sales, weekly (May 16, 2025 = 5.4)</text>
<text x="90.2" y="140.0">Recession</text>
</g>
<text x="43.2" y="666.8" font-size="15.0" fill="#111">Source: LSEG Datastream and © Yardeni Research. Redbook Research Inc and Census Bureau.</text>
</svg>
</body></html>
